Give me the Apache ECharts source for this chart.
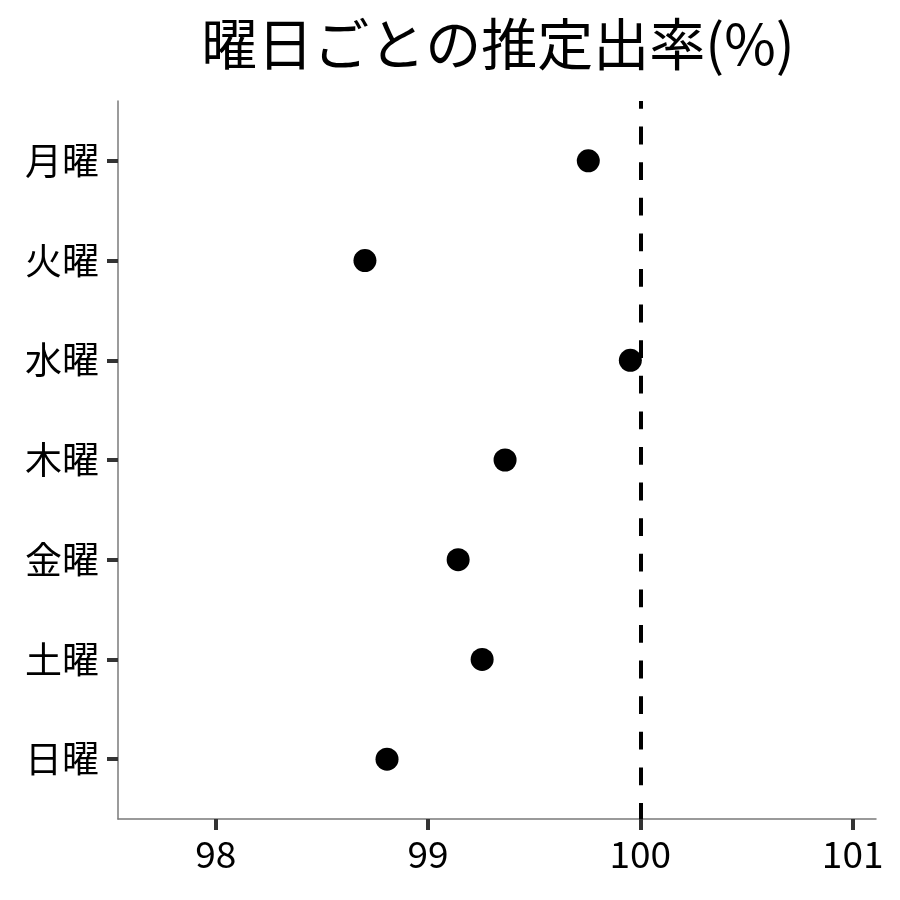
<!DOCTYPE html>
<html>
<head>
<meta charset="utf-8">
<script src="https://cdn.jsdelivr.net/npm/echarts@6/dist/echarts.min.js"></script>
<style>
html, body { margin: 0; padding: 0; background: #fff; }
#chart { width: 900px; height: 900px; }
</style>
</head>
<body>
<div id="chart"></div>
<script>
// 曜日ごとの推定出率
var days = ['月曜', '火曜', '水曜', '木曜', '金曜', '土曜', '日曜'];
var rates = [99.755, 98.703, 99.953, 99.363, 99.142, 99.255, 98.807];
var x_ticks = [98, 99, 100, 101];
var ref_line = 100;
var title_text = '曜日ごとの推定出率(%)';

var font = '"Noto Sans CJK JP", "Noto Sans", sans-serif';

function get_points() {
    var pts = [];
    for (var i = 0; i < days.length; i++) {
        pts.push([rates[i], i]);
    }
    return pts;
}

function get_day_index() {
    var idx = [];
    for (var i = 0; i < days.length; i++) idx.push(i);
    return idx;
}

var chart = echarts.init(document.getElementById('chart'));
chart.setOption({
    backgroundColor: '#fff',
    animation: false,
    graphic: [{
        type: 'text',
        x: 498,
        y: 44,
        style: {
            text: title_text,
            fontSize: 56,
            fontFamily: font,
            fill: '#000',
            align: 'center',
            verticalAlign: 'middle'
        }
    }],
    grid: {
        left: 118,
        right: 24,
        top: 101,
        bottom: 81
    },
    xAxis: {
        type: 'value',
        min: 97.54,
        max: 101.11,
        splitLine: { show: false },
        axisLine: { onZero: false, lineStyle: { color: '#7a7a7a', width: 1.5 } },
        axisTick: {
            show: true,
            customValues: x_ticks,
            length: 11,
            lineStyle: { color: '#333', width: 4 }
        },
        axisLabel: {
            customValues: x_ticks,
            margin: 16,
            fontSize: 37,
            fontFamily: font,
            color: '#000'
        }
    },
    yAxis: {
        type: 'value',
        inverse: true,
        min: -0.6,
        max: 6.6,
        splitLine: { show: false },
        axisLine: { show: true, onZero: false, lineStyle: { color: '#7a7a7a', width: 1.5 } },
        axisTick: {
            show: true,
            customValues: get_day_index(),
            length: 11,
            lineStyle: { color: '#333', width: 4 }
        },
        axisLabel: {
            customValues: get_day_index(),
            margin: 19,
            fontSize: 37,
            fontFamily: font,
            color: '#000',
            formatter: function (v) {
                return days[Math.round(v)];
            }
        }
    },
    series: [{
        type: 'scatter',
        data: get_points(),
        symbol: 'circle',
        symbolSize: 23,
        itemStyle: { color: '#000', opacity: 1 },
        markLine: {
            silent: true,
            symbol: ['none', 'none'],
            label: { show: false },
            lineStyle: { color: '#000', width: 4, type: [17.8, 17.8], dashOffset: 10, opacity: 1 },
            data: [{ xAxis: ref_line }]
        },
        z: 3
    }]
});
</script>
</body>
</html>
